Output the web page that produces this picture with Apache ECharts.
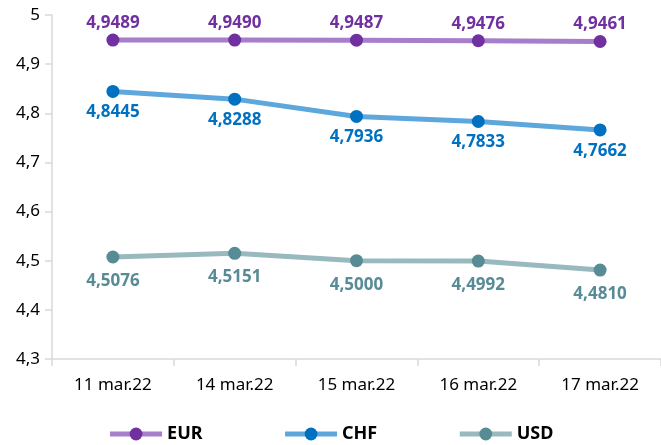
<!DOCTYPE html>
<html>
<head>
<meta charset="utf-8">
<script src="https://cdn.jsdelivr.net/npm/echarts@6/dist/echarts.min.js"></script>
<style>
  html, body { margin: 0; padding: 0; background: #fff; }
  #chart { width: 661px; height: 445px; }
</style>
</head>
<body>
<div id="chart"></div>
<script>
const days = ['11 mar.22', '14 mar.22', '15 mar.22', '16 mar.22', '17 mar.22']
const eur = [4.9489, 4.9490, 4.9487, 4.9476, 4.9461]
const chf = [4.8445, 4.8288, 4.7936, 4.7833, 4.7662]
const usd = [4.5076, 4.5151, 4.5000, 4.4992, 4.4810]

const font = '"Noto Sans", "Open Sans", sans-serif'
const comma = v => v.toFixed(4).replace('.', ',')

function makeSeries(name, data, lineColor, dotColor, pos, dist) {
	return {
		name: name,
		type: 'line',
		data: data,
		symbol: 'circle',
		symbolSize: 13,
		lineStyle: { color: lineColor, width: 5 },
		itemStyle: { color: dotColor },
		label: {
			show: true,
			position: pos,
			distance: dist,
			color: dotColor,
			fontFamily: font,
			fontWeight: 'bold',
			fontSize: 17,
			formatter: p => comma(p.value)
		},
		emphasis: { disabled: true },
		animation: false
	}
}

const chart = echarts.init(document.getElementById('chart'))
chart.setOption({
	animation: false,
	grid: { left: 52, right: 0, top: 15, bottom: 86 },
	legend: {
		top: 420,
		left: 'center',
		itemWidth: 52,
		itemHeight: 16,
		itemGap: 80,
		lineStyle: { width: 5 },
		textStyle: { fontFamily: font, fontWeight: 'bold', fontSize: 18, color: '#000' },
		data: ['EUR', 'CHF', 'USD']
	},
	xAxis: {
		type: 'category',
		data: days,
		boundaryGap: true,
		axisLine: { lineStyle: { color: '#d9d9d9', width: 1.5 } },
		axisTick: { show: true, length: 7, lineStyle: { color: '#d9d9d9', width: 1.5 } },
		axisLabel: { color: '#000', fontFamily: font, fontSize: 17, margin: 18 }
	},
	yAxis: {
		type: 'value',
		min: 4.3,
		max: 5,
		interval: 0.1,
		splitLine: { show: false },
		axisLine: { show: true, lineStyle: { color: '#d9d9d9', width: 1.5 } },
		axisTick: { show: true, length: 7, lineStyle: { color: '#d9d9d9', width: 1.5 } },
		axisLabel: {
			color: '#000', fontFamily: font, fontSize: 17, margin: 12,
			formatter: v => String(+v.toFixed(1)).replace('.', ',')
		}
	},
	series: [
		makeSeries('EUR', eur, '#A67ECA', '#7030A0', 'top', 2),
		makeSeries('CHF', chf, '#5EA7DC', '#0070C0', 'bottom', 6),
		makeSeries('USD', usd, '#98B9BE', '#578B96', 'bottom', 9)
	]
})
</script>
</body>
</html>
